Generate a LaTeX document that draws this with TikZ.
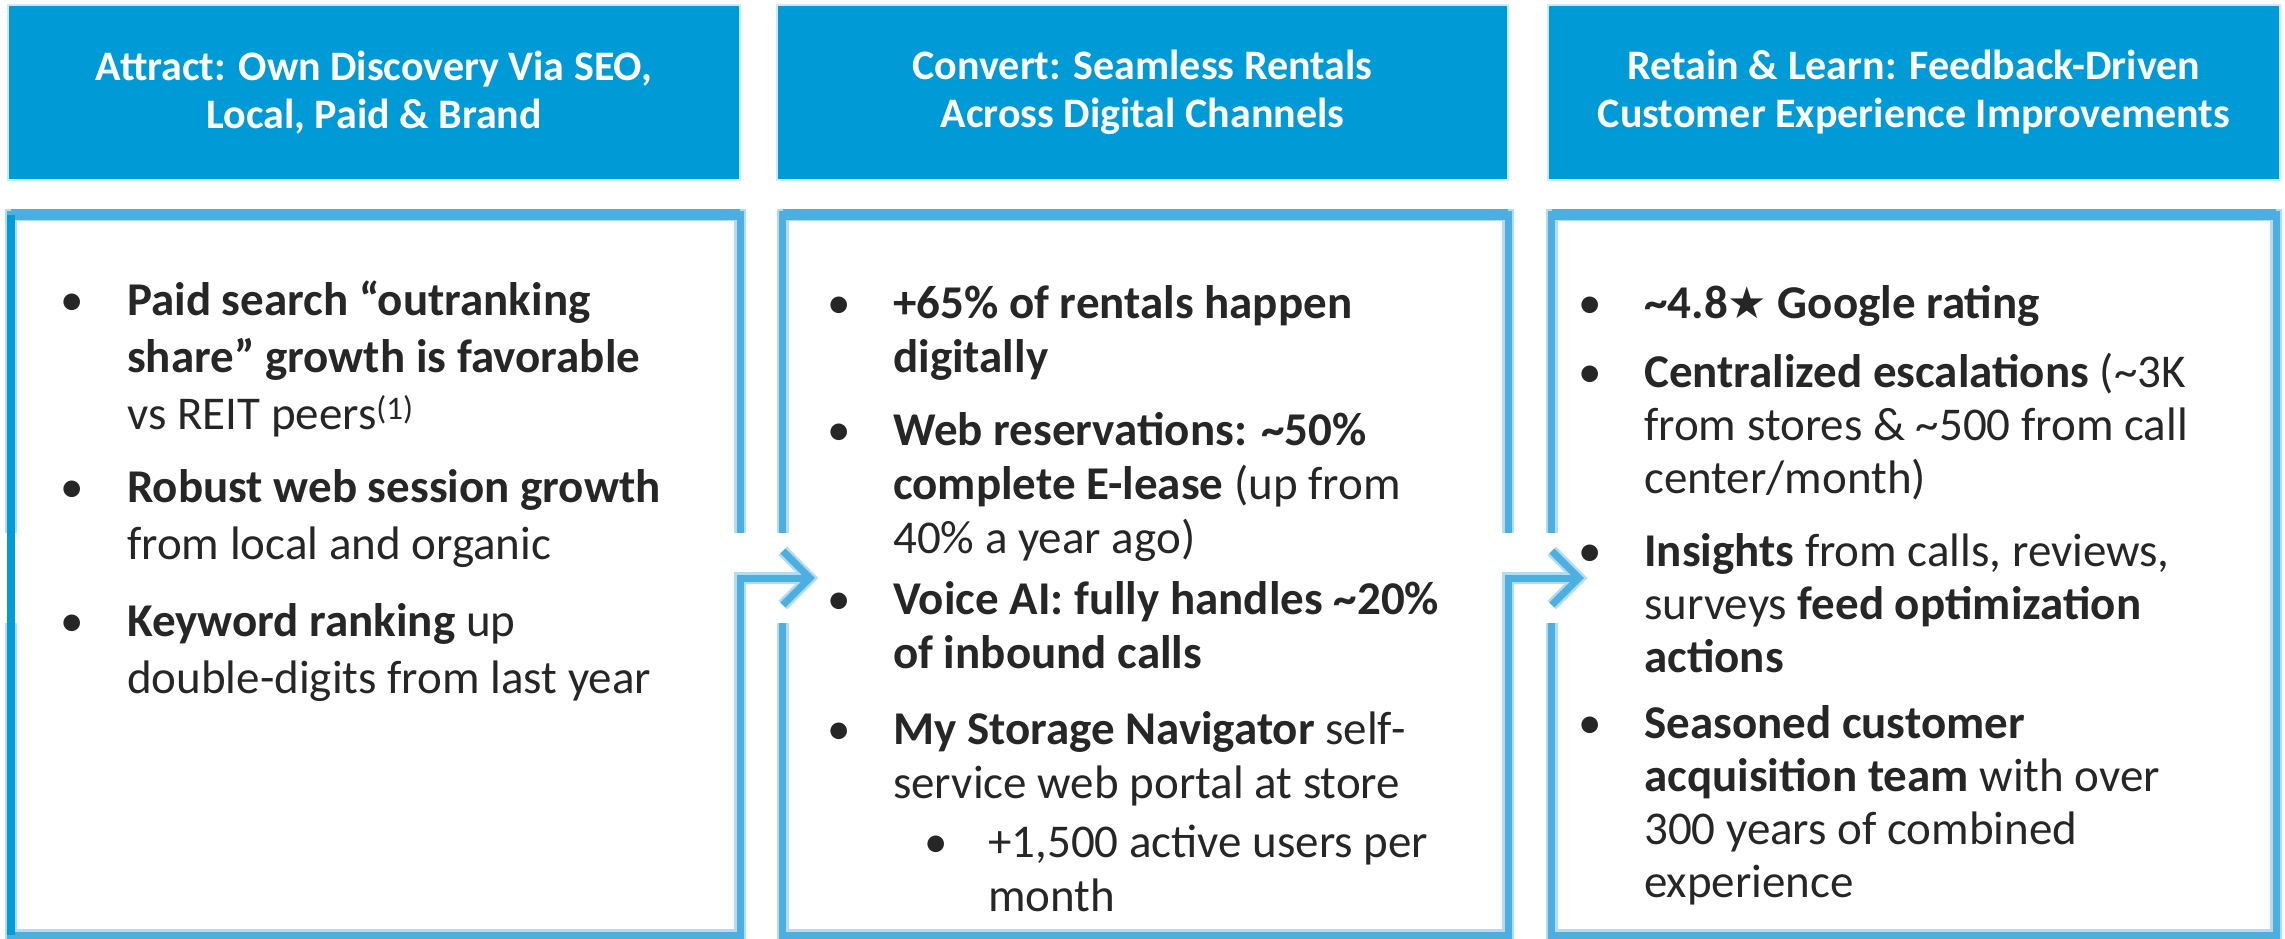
\documentclass[tikz,border=0pt]{standalone}
\usepackage{fontspec}
\setmainfont{Carlito}
\newfontfamily\symfont{DejaVu Sans}
\usetikzlibrary{calc}

\definecolor{hdrblue}{RGB}{0,155,215}
\definecolor{hdredge}{RGB}{205,235,247}
\definecolor{boxblue}{RGB}{77,175,224}
\definecolor{boxrim}{RGB}{178,220,242}
\definecolor{leftblue}{RGB}{0,155,217}
\definecolor{ink}{RGB}{38,38,38}

\tikzset{
  hdr/.style={rectangle, fill=hdrblue, draw=hdredge, line width=2.5pt, text=white,
    align=center, inner sep=0pt, minimum height=175pt,
    font=\bfseries\fontsize{42}{48}\selectfont},
  panel/.style={rectangle, inner sep=0pt, minimum height=720pt},
  rim/.style={draw=boxrim, line width=12pt, line join=miter},
  bordr/.style={draw=boxblue, line width=7pt, line join=miter},
  topbar/.style={draw=boxblue, line width=11pt},
  leftedge/.style={draw=leftblue, line width=8pt},
  bultext/.style={anchor=base west, inner sep=0pt, text=ink},
  bulmark/.style={anchor=base, inner sep=0pt, text=ink},
}

% one bullet paragraph, first baseline at the anchor point
\newcommand{\bpar}[1]{\parbox[t]{700pt}{\raggedright #1}}
\newcommand{\tl}{\textasciitilde}

\begin{document}
\begin{tikzpicture}[x=1pt,y=-1pt]
\useasboundingbox (0,0) rectangle (2285,939);

% ---- stage headers ----
\node[hdr, minimum width=732pt] (h1) at (374,92.5)
  {Attract: Own Discovery Via SEO,\\Local, Paid \& Brand};
\node[hdr, minimum width=731pt] (h2) at (1142.5,92.5)
  {Convert: Seamless Rentals\\Across Digital Channels};
\node[hdr, minimum width=732pt] (h3) at (1914,92.5)
  {Retain \& Learn: Feedback-Driven\\Customer Experience Improvements};

% ---- content panels ----
\node[panel, minimum width=729pt] (b1) at (375.5,575) {};
\node[panel, minimum width=725pt] (b2) at (1145.5,575) {};
\node[panel, minimum width=724pt] (b3) at (1914,575) {};

% arrow tips just inside the next panel
\coordinate (a1) at ($(b2.west)+(27,3)$);
\coordinate (a2) at ($(b3.west)+(27,3)$);

% light rims
\foreach \p/\t in {b1/a1, b2/a2} {
  \draw[rim] ($(\p.west)+(0,-42)$) |- (\p.north east) -- ($(\p.east)+(0,-42)$);
  \draw[rim] ($(\p.west)+(0,48)$) |- (\p.south east) -- ($(\p.east)+(0,3)$) -- (\t);
}
\draw[rim] ($(b3.west)+(0,-42)$) |- (b3.north east) -- (b3.south east) -| ($(b3.west)+(0,48)$);
\draw[rim] ($(a1)+(-27,-27)$) -- (a1) -- ($(a1)+(-27,27)$);
\draw[rim] ($(a2)+(-27,-27)$) -- (a2) -- ($(a2)+(-27,27)$);

% panel borders, each ending in the arrow to the next panel
\foreach \p/\t in {b1/a1, b2/a2} {
  \draw[bordr] ($(\p.west)+(0,-42)$) |- (\p.north east) -- ($(\p.east)+(0,-42)$);
  \draw[bordr] ($(\p.west)+(0,48)$) |- (\p.south east) -- ($(\p.east)+(0,3)$) -- (\t);
}
\draw[bordr] ($(b3.west)+(0,-42)$) |- (b3.north east) -- (b3.south east) -| ($(b3.west)+(0,48)$);
\foreach \p in {b1,b2,b3} \draw[topbar] (\p.north west) -- (\p.north east);
\draw[leftedge] (b1.north west) -- (b1.south west);

% chevron heads
\draw[bordr] ($(a1)+(-27,-27)$) -- (a1) -- ($(a1)+(-27,27)$);
\draw[bordr] ($(a2)+(-27,-27)$) -- (a2) -- ($(a2)+(-27,27)$);

% ---- panel 1 text ----
\begin{scope}[every node/.append style={font=\fontsize{47}{57}\selectfont}]
\node[bulmark] (m11) at (72,315) {•};
\node[bultext] (t11) at (127,315) {\bpar{\textbf{Paid search “outranking}\\
  \textbf{share” growth is favorable}\\vs REIT peers\textsuperscript{(1)}}};
\node[bulmark] (m12) at (72,502) {•};
\node[bultext] (t12) at (127,502) {\bpar{\textbf{Robust web session growth}\\
  from local and organic}};
\node[bulmark] (m13) at (72,636) {•};
\node[bultext] (t13) at (127,636) {\bpar{\textbf{Keyword ranking} up\\
  double-digits from last year}};
\end{scope}

% ---- panel 2 text ----
\begin{scope}[every node/.append style={font=\fontsize{47}{54}\selectfont}]
\node[bulmark] (m21) at (839,318) {•};
\node[bultext] (t21) at (893,318) {\bpar{\textbf{+65\% of rentals happen}\\
  \textbf{digitally}}};
\node[bulmark] (m22) at (839,445) {•};
\node[bultext] (t22) at (893,445) {\bpar{\textbf{Web reservations: \tl50\%}\\
  \textbf{complete E-lease} (up from\\40\% a year ago)}};
\node[bulmark] (m23) at (839,614) {•};
\node[bultext] (t23) at (893,614) {\bpar{\textbf{Voice AI: fully handles \tl20\%}\\
  \textbf{of inbound calls}}};
\node[bulmark] (m24) at (839,744) {•};
\node[bultext] (t24) at (893,744) {\bpar{\textbf{My Storage Navigator} self-\\
  service web portal at store}};
\node[bulmark] (m25) at (936,857) {•};
\node[bultext] (t25) at (988,857) {\bpar{+1,500 active users per\\month}};
\end{scope}

% ---- panel 3 text ----
\begin{scope}[every node/.append style={font=\fontsize{47}{53}\selectfont}]
\node[bulmark] (m31) at (1590,318) {•};
\node[bultext] (t31) at (1644,318) {\bpar{\textbf{\tl4.8{\symfont\fontsize{44}{44}\selectfont ★} Google rating}}};
\node[bulmark] (m32) at (1590,387) {•};
\node[bultext] (t32) at (1644,387) {\bpar{\textbf{Centralized escalations} (\tl3K\\
  from stores \& \tl500 from call\\center/month)}};
\node[bulmark] (m33) at (1590,566) {•};
\node[bultext] (t33) at (1644,566) {\bpar{\textbf{Insights} from calls, reviews,\\
  surveys \textbf{feed optimization}\\\textbf{actions}}};
\node[bulmark] (m34) at (1590,738) {•};
\node[bultext] (t34) at (1644,738) {\bpar{\textbf{Seasoned customer}\\
  \textbf{acquisition team} with over\\300 years of combined\\experience}};
\end{scope}

\end{tikzpicture}
\end{document}
